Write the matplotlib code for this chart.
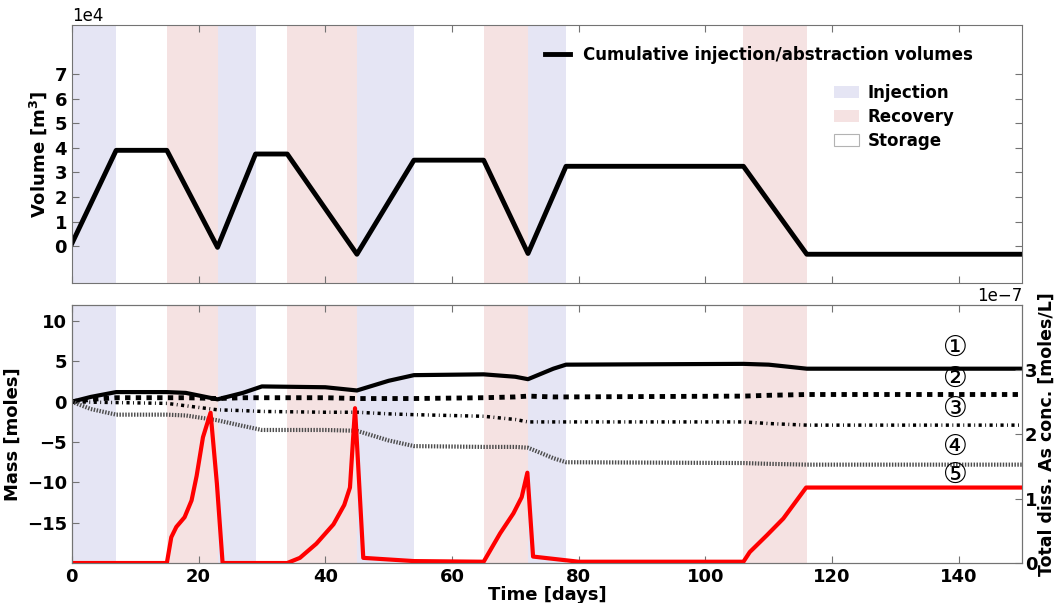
import matplotlib
matplotlib.use("Agg")
import matplotlib.pyplot as plt
from matplotlib.patches import Patch
from matplotlib.lines import Line2D

# operation phases [start, end] in days
injection = [(0, 7), (23, 29), (45, 54), (72, 78)]
recovery = [(15, 23), (34, 45), (65, 72), (106, 116)]

# cumulative volume [m3]
t_vol = [0, 7, 15, 23, 29, 34, 45, 54, 65, 72, 78, 106, 116, 150]
vol = [1000, 39000, 39000, -500, 37500, 37500, -3300, 35000, 35000, -3000, 32500, 32500, -3300, -3300]

# mass balances [moles]
t_mass = [0, 3, 7, 15, 18, 23, 27, 30, 40, 45, 50, 54, 65, 70, 72, 76, 78, 106, 110, 116, 150]
m1 = [0, 0.6, 1.2, 1.2, 1.1, 0.3, 1.1, 1.9, 1.8, 1.4, 2.6, 3.3, 3.4, 3.1, 2.8, 4.1, 4.6, 4.7, 4.6, 4.1, 4.1]
m2 = [0, 0.3, 0.5, 0.5, 0.5, 0.4, 0.5, 0.5, 0.5, 0.4, 0.4, 0.4, 0.5, 0.6, 0.7, 0.6, 0.6, 0.7, 0.8, 0.9, 0.9]
m3 = [0, -0.05, -0.1, -0.2, -0.5, -1.0, -1.1, -1.2, -1.3, -1.3, -1.5, -1.6, -1.8, -2.2, -2.5, -2.5, -2.5, -2.5, -2.7, -2.9, -2.9]
m4 = [0, -0.9, -1.6, -1.6, -1.7, -2.3, -3.0, -3.5, -3.5, -3.6, -4.8, -5.5, -5.6, -5.6, -5.7, -7.0, -7.5, -7.6, -7.7, -7.8, -7.8]

# total dissolved As concentration [moles/L]
t_conc = [0, 15, 15.7, 16.5, 17.8, 18.9, 19.7, 20.7, 21.9, 22.9, 23.8, 34, 36, 38.6, 41.3, 43,
          43.9, 44.7, 46, 54, 65, 67.6, 69.7, 71, 71.9, 72.8, 80, 106, 107, 109.7, 112.3, 114.4, 115.9, 150]
conc = [0, 0, 0.4, 0.56, 0.71, 0.97, 1.35, 1.95, 2.33, 1.23, 0, 0, 0.08, 0.3, 0.6, 0.9,
        1.17, 2.4, 0.08, 0.03, 0.02, 0.46, 0.77, 1.02, 1.40, 0.1, 0.02, 0.02, 0.17, 0.43, 0.69, 0.97, 1.17, 1.17]
conc = [c * 1e-7 for c in conc]

labels_pos = [6.6, 2.8, -0.9, -5.7, -9.1]
circled = ['\u2460', '\u2461', '\u2462', '\u2463', '\u2464']

c_inj = '#e5e5f4'
c_rec = '#f5e2e2'
spine_c = '0.45'
fs = 13

fig = plt.figure(figsize=(10.56, 6.03), dpi=100)
ax1 = fig.add_axes([0.068, 0.5307, 0.9, 0.4278])
ax2 = fig.add_axes([0.068, 0.0663, 0.9, 0.4279])

for ax in (ax1, ax2):
    for a, b in injection:
        ax.axvspan(a, b, color=c_inj, lw=0, zorder=0)
    for a, b in recovery:
        ax.axvspan(a, b, color=c_rec, lw=0, zorder=0)
    ax.set_xlim(0, 150)
    ax.set_xticks(range(0, 150, 20))
    for s in ax.spines.values():
        s.set_color(spine_c)
    ax.tick_params(direction='in', length=5, color=spine_c, top=True)

# top panel
ax1.plot(t_vol, vol, color='k', lw=3.5)
ax1.set_ylim(-15000, 90000)
ax1.set_yticks([i * 10000 for i in range(8)])
ax1.ticklabel_format(axis='y', style='sci', scilimits=(0, 0))
ax1.yaxis.get_offset_text().set_fontsize(12)
ax1.tick_params(right=True, labelbottom=False, labelsize=fs)
ax1.set_ylabel('Volume [m$^\\mathbf{3}$]', fontsize=fs, fontweight='bold')
for l in ax1.get_yticklabels():
    l.set_fontweight('bold')

leg1 = ax1.legend([Line2D([], [], color='k', lw=3.5)],
                  ['Cumulative injection/abstraction volumes'],
                  loc='center left', bbox_to_anchor=(0.508, 0.909), bbox_transform=fig.transFigure,
                  frameon=False, borderpad=0, handlelength=1.5, handletextpad=0.8,
                  prop={'weight': 'bold', 'size': 12})
ax1.add_artist(leg1)
patches = [Patch(facecolor=c_inj, edgecolor='none'),
           Patch(facecolor=c_rec, edgecolor='none'),
           Patch(facecolor='white', edgecolor='0.7', lw=0.8)]
ax1.legend(patches, ['Injection', 'Recovery', 'Storage'],
           loc='center left', bbox_to_anchor=(0.782, 0.806), bbox_transform=fig.transFigure,
           frameon=False, borderpad=0, handlelength=1.5, handleheight=0.7,
           handletextpad=0.5, labelspacing=0.35,
           prop={'weight': 'bold', 'size': 12})

# bottom panel
ax2.plot(t_mass, m1, color='k', lw=3, solid_joinstyle='round')
ax2.plot(t_mass, m2, color='k', lw=3.5, dashes=(1.1, 1.1))
ax2.plot(t_mass, m3, color='k', lw=2.5, dashes=(0.9, 1.0, 0.25, 1.0))
ax2.plot(t_mass, m4, color='0.3', lw=3, dashes=(0.35, 0.35))
ax2.set_ylim(-20, 12)
ax2.set_yticks([-15, -10, -5, 0, 5, 10])
ax2.tick_params(labelsize=fs, right=False)
ax2.set_ylabel('Mass [moles]', fontsize=fs, fontweight='bold')
ax2.set_xlabel('Time [days]', fontsize=fs, fontweight='bold', labelpad=0)
for l in ax2.get_yticklabels() + ax2.get_xticklabels():
    l.set_fontweight('bold')
for txt, y in zip(circled, labels_pos):
    ax2.text(139.5, y, txt, ha='center', va='center', fontsize=20,
             family=['DejaVu Serif', 'DejaVu Sans', 'Noto Sans CJK JP'])

ax3 = ax2.twinx()
ax3.plot(t_conc, conc, color='red', lw=3)
ax3.set_ylim(0, 4e-7)
ax3.set_yticks([0, 1e-7, 2e-7, 3e-7])
ax3.set_xlim(0, 150)
ax3.tick_params(direction='in', length=5, color=spine_c, labelsize=fs, pad=2)
ax3.yaxis.get_offset_text().set_fontsize(12)
for s in ax3.spines.values():
    s.set_color(spine_c)
ax3.set_ylabel('Total diss. As conc. [moles/L]', fontsize=12.5, fontweight='bold', labelpad=0)
for l in ax3.get_yticklabels():
    l.set_fontweight('bold')

fig.savefig('out.png', dpi=100)
